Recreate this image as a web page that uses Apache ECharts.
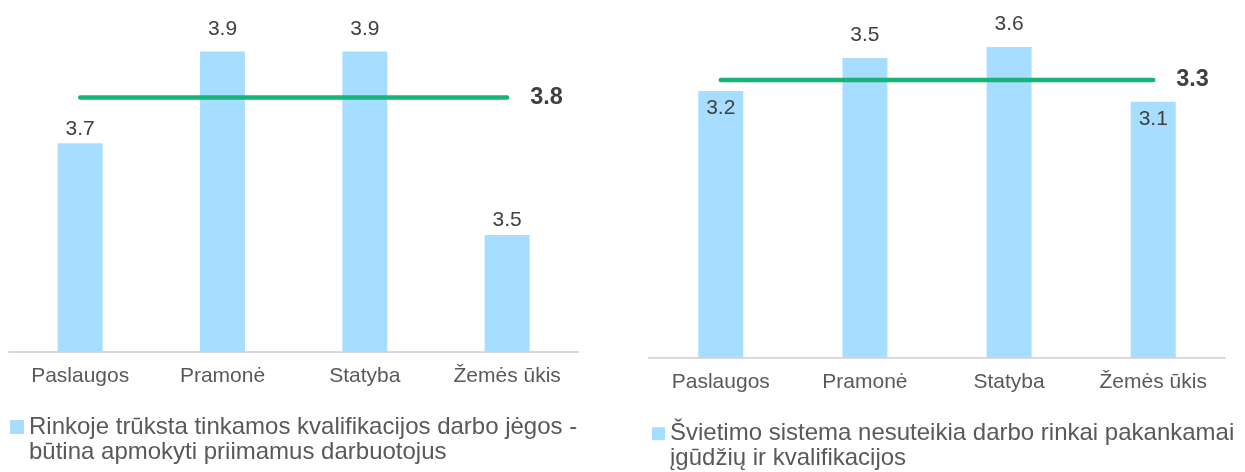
<!DOCTYPE html>
<html>
<head>
<meta charset="utf-8">
<script src="https://cdn.jsdelivr.net/npm/echarts@6/dist/echarts.min.js"></script>
<style>
  html, body { margin: 0; padding: 0; background: #ffffff; }
  #chart { width: 1245px; height: 472px; }
</style>
</head>
<body>
<div id="chart"></div>
<script>
// Sectors shown on both panels
const categories = ['Paslaugos', 'Pramonė', 'Statyba', 'Žemės ūkis'];

// Left panel: shortage of qualified labour, score by sector and overall average
const trainingNeedScores = [3.7, 3.9, 3.9, 3.5];
const trainingNeedAverage = [3.8, 3.8, 3.8, 3.8];

// Right panel: education system does not provide enough skills
const educationGapScores = [3.2, 3.5, 3.6, 3.1];
const educationGapAverage = [3.3, 3.3, 3.3, 3.3];

// Legend captions, one entry per printed line
const trainingNeedLegend = ['Rinkoje trūksta tinkamos kvalifikacijos darbo jėgos -', 'būtina apmokyti priimamus darbuotojus'];
const educationGapLegend = ['Švietimo sistema nesuteikia darbo rinkai pakankamai', 'įgūdžių ir kvalifikacijos'];

const FONT = '"Liberation Sans", Arial, Helvetica, sans-serif';
const BAR_COLOR = '#a7deff';
const LINE_COLOR = '#14b576';
const LABEL_COLOR = '#404040';
const AXIS_TEXT = '#595959';

const trainingName = trainingNeedLegend.join(' ');
const educationName = educationGapLegend.join(' ');

function xAxisFor(gridIndex) {
  return {
    type: 'category',
    gridIndex: gridIndex,
    data: categories,
    axisLine: { lineStyle: { color: '#d9d9d9', width: 2 } },
    axisTick: { show: false },
    axisLabel: { margin: 14, fontSize: 21, lineHeight: 21, color: AXIS_TEXT, fontFamily: FONT },
    splitLine: { show: false }
  };
}

function yAxisFor(gridIndex, min, max) {
  return { type: 'value', gridIndex: gridIndex, min: min, max: max, show: false };
}

// Bars above the average keep their label a little higher; on the right panel
// labels of below-average bars sit inside the bar top.
function barData(values, average, insideWhenLow) {
  return values.map(function (v, i) {
    const high = v > average[i];
    if (!high && insideWhenLow) {
      return { value: v, label: { position: 'insideTop', distance: 6.5 } };
    }
    return { value: v, label: { position: 'top', distance: high ? 12 : 4 } };
  });
}

function barSeries(name, idx, values, average, insideWhenLow) {
  return {
    name: name,
    type: 'bar',
    xAxisIndex: idx,
    yAxisIndex: idx,
    barWidth: 45,
    itemStyle: { color: BAR_COLOR },
    label: {
      show: true,
      fontSize: 21,
      lineHeight: 21,
      color: LABEL_COLOR,
      fontFamily: FONT,
      formatter: function (p) { return Number(p.value).toFixed(1); }
    },
    data: barData(values, average, insideWhenLow)
  };
}

function averageSeries(name, idx, values) {
  return {
    name: name,
    type: 'line',
    xAxisIndex: idx,
    yAxisIndex: idx,
    symbol: 'none',
    lineStyle: { color: LINE_COLOR, width: 4.5, cap: 'round' },
    endLabel: {
      show: true,
      distance: 23,
      fontSize: 23.5,
      fontWeight: 'bold',
      color: LABEL_COLOR,
      fontFamily: FONT,
      formatter: function (p) { return Number(p.value).toFixed(1); }
    },
    data: values
  };
}

// The caption starts with an empty line so that its first printed line
// lines up with the colour square.
function legendFor(name, lines, left, top, size) {
  return {
    data: [name],
    left: left,
    top: top,
    padding: 0,
    icon: 'rect',
    itemWidth: size,
    itemHeight: size,
    selectedMode: false,
    formatter: function () { return '\n' + lines.join('\n'); },
    textStyle: {
      fontSize: 24,
      lineHeight: 25,
      color: AXIS_TEXT,
      fontFamily: FONT
    }
  };
}

const chart = echarts.init(document.getElementById('chart'), null, { renderer: 'canvas' });

chart.setOption({
  animation: false,
  backgroundColor: '#ffffff',
  grid: [
    { left: 9, top: 5.6, width: 569.3, height: 346.1 },
    { left: 648.7, top: 28.3, width: 576.6, height: 329.4 }
  ],
  xAxis: [xAxisFor(0), xAxisFor(1)],
  yAxis: [yAxisFor(0, 3.246, 4.0), yAxisFor(1, 0.77, 3.77)],
  legend: [
    legendFor(trainingName, trainingNeedLegend, 10, 389.5, 14),
    legendFor(educationName, educationGapLegend, 652, 396.2, 13)
  ],
  series: [
    barSeries(trainingName, 0, trainingNeedScores, trainingNeedAverage, false),
    averageSeries('Vidurkis (kairė)', 0, trainingNeedAverage),
    barSeries(educationName, 1, educationGapScores, educationGapAverage, true),
    averageSeries('Vidurkis (dešinė)', 1, educationGapAverage)
  ]
});
</script>
</body>
</html>
